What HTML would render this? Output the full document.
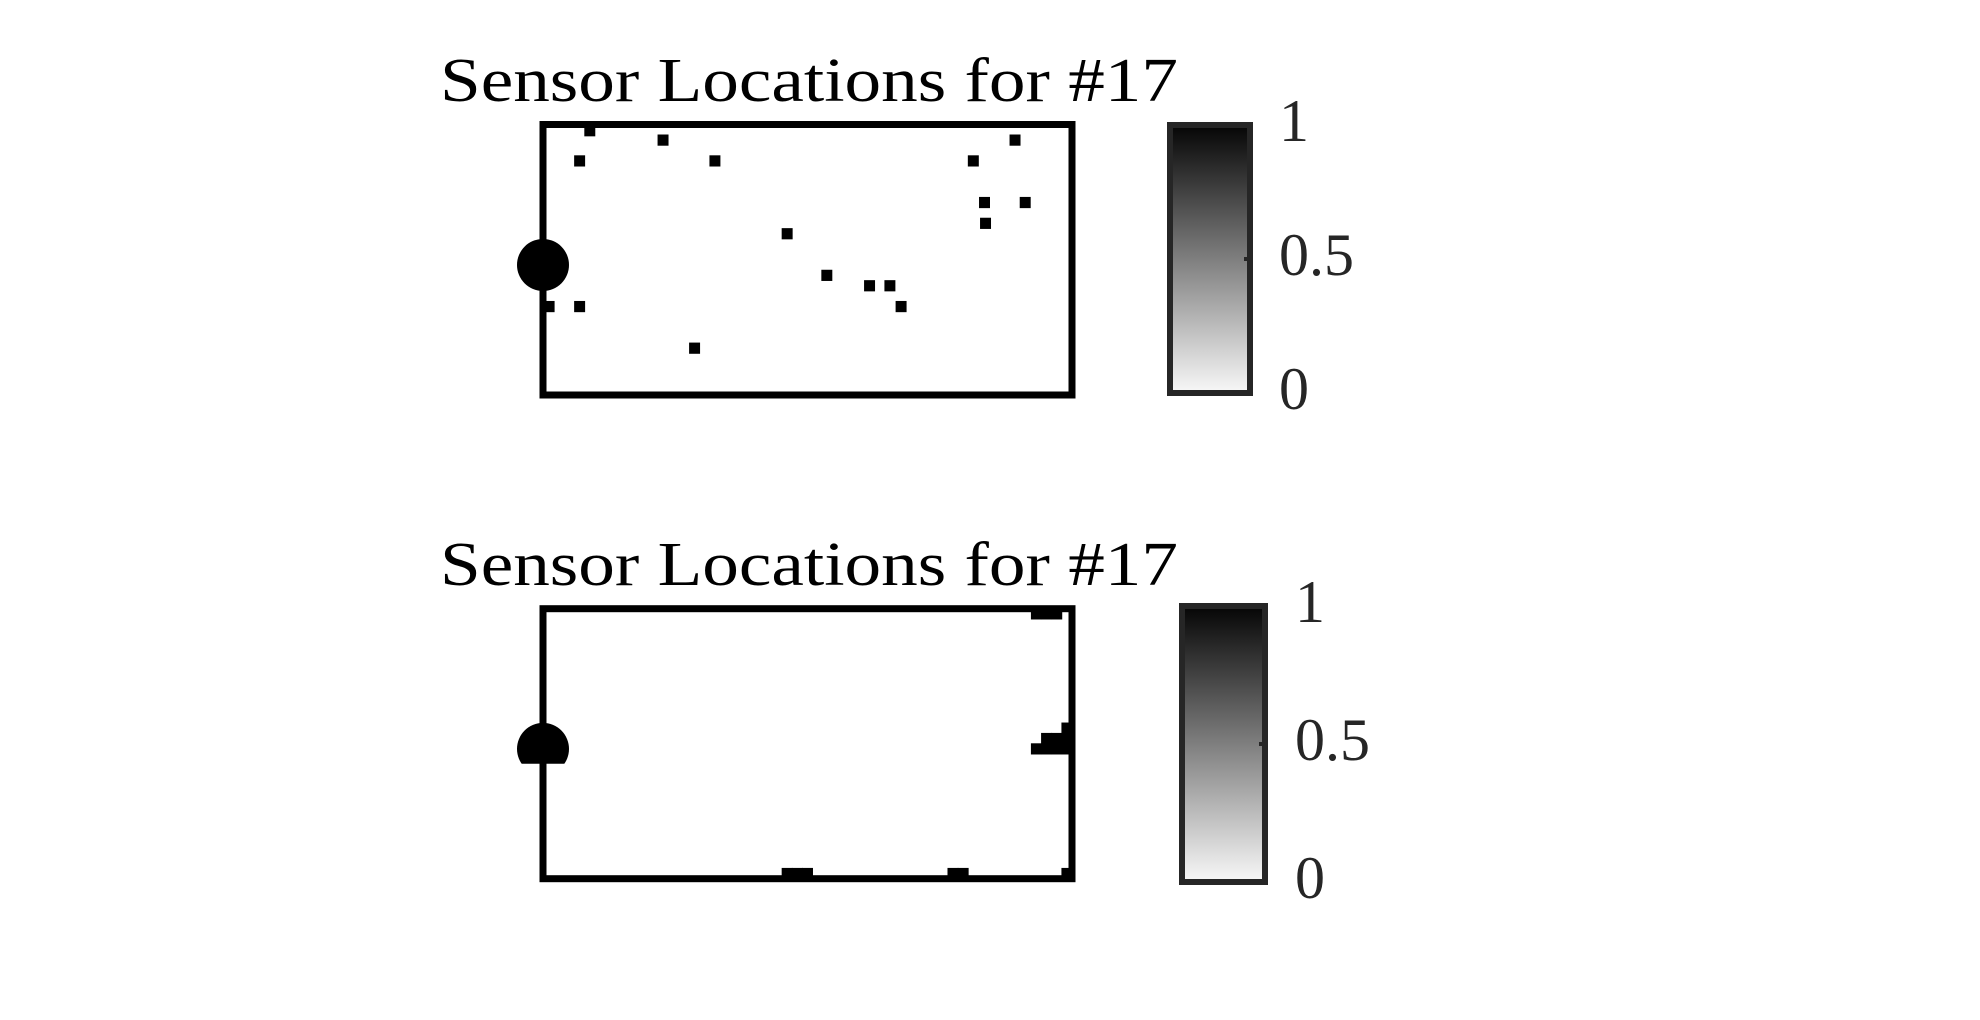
<!DOCTYPE html>
<html>
<head>
<meta charset="utf-8">
<style>
  html, body { margin: 0; padding: 0; background: #ffffff; }
  svg { display: block; }
  text { font-family: "Liberation Serif", "DejaVu Serif", serif; }
</style>
</head>
<body>
<svg id="chart" width="1980" height="1020" viewBox="0 0 1980 1020" xmlns="http://www.w3.org/2000/svg">
  <defs>
    <linearGradient id="cbgrad" x1="0" y1="0" x2="0" y2="1">
      <stop offset="0" stop-color="#050505"/>
      <stop offset="1" stop-color="#f8f8f8"/>
    </linearGradient>
    <clipPath id="halfclip"><rect x="500" y="600" width="100" height="163.7"/></clipPath>
  </defs>
  <g id="top-panel"></g>
  <g id="bottom-panel"></g>
</svg>
<script>
// ---- data ----
const gridCols = 52;
const gridRows = 26;
const topSensorX = [4.6, 11.8, 3.6, 16.9, 42.3, 46.4, 43.4, 47.4, 43.5, 24.0, 27.9, 32.1, 34.1, 35.2, 3.6, 0.6, 14.9];
const topSensorY = [0.6, 1.5, 3.5, 3.5, 3.5, 1.5, 7.5, 7.5, 9.5, 10.5, 14.5, 15.5, 15.5, 17.5, 17.5, 17.5, 21.5];
const bottomSensorX = [48.5, 49.5, 50.5, 51.5, 49.5, 50.5, 51.5, 48.5, 49.5, 50.5, 51.5, 24.0, 25.0, 26.0, 40.3, 41.3, 51.5];
const bottomSensorY = [0.5, 0.5, 0.5, 11.5, 12.5, 12.5, 12.5, 13.5, 13.5, 13.5, 13.5, 25.5, 25.5, 25.5, 25.5, 25.5, 25.5];
const sourceX = [0];
const sourceY = [13.5];
const colorbarTicks = [0, 0.5, 1];
const colorbarTickLabels = ["0", "0.5", "1"];
const titleText = "Sensor Locations for #17";

const NS = "http://www.w3.org/2000/svg";
function mk(tag, attrs, parent) {
  const e = document.createElementNS(NS, tag);
  for (const k in attrs) e.setAttribute(k, attrs[k]);
  parent.appendChild(e);
  return e;
}

function drawPanel(g, box, xs, ys, half, cb, titleBaseline, labelX, labelDy) {
  const cw = (box.x1 - box.x0) / gridCols;
  const ch = (box.y1 - box.y0) / gridRows;
  const sx = v => box.x0 + v * cw;
  const sy = v => box.y0 + v * ch;

  const t = mk("text", {x: 440, y: titleBaseline, "font-size": 62, fill: "#000", textLength: 738, lengthAdjust: "spacingAndGlyphs"}, g);
  t.textContent = titleText;
  
  

  const frame = mk("rect", {x: box.x0, y: box.y0, width: box.x1 - box.x0, height: box.y1 - box.y0, fill: "#fff", stroke: "#000", "stroke-width": 7}, g);
  
  

  for (let i = 0; i < xs.length; i++) {
    const r = mk("rect", {x: sx(xs[i]) - cw / 2 - 0.4, y: sy(ys[i]) - ch / 2 - 0.4, width: cw + 0.8, height: ch + 0.8, fill: "#000"}, g);
    
    
  }

  const src = mk("circle", {cx: sx(sourceX[0]), cy: sy(sourceY[0]), r: 26, fill: "#000"}, g);
  if (half) src.setAttribute("clip-path", "url(#halfclip)");
  
  

  const cbr = mk("rect", {x: cb.x0 + 3, y: cb.y0 + 3, width: cb.x1 - cb.x0 - 6, height: cb.y1 - cb.y0 - 6, fill: "url(#cbgrad)", stroke: "#262626", "stroke-width": 6}, g);
  
  
  const cy = v => (cb.y1 - 3) - v * ((cb.y1 - 3) - (cb.y0 + 3));
  for (let i = 0; i < colorbarTicks.length; i++) {
    const yy = cy(colorbarTicks[i]);
    if (colorbarTicks[i] > 0 && colorbarTicks[i] < 1) {
      const tk = mk("rect", {x: cb.x1 - 9, y: yy - 2, width: 3, height: 4, fill: "#262626"}, g);
      
      
    }
    const lb = mk("text", {x: labelX, y: yy + labelDy, "font-size": 60, fill: "#262626"}, g);
    lb.textContent = colorbarTickLabels[i];
    
    
  }
}

drawPanel(document.getElementById("top-panel"),
  {x0: 543, x1: 1072, y0: 124.5, y1: 395}, topSensorX, topSensorY, false,
  {x0: 1167, x1: 1253, y0: 122, y1: 396}, 101, 1279, 16);
drawPanel(document.getElementById("bottom-panel"),
  {x0: 543, x1: 1072, y0: 608.7, y1: 878.7}, bottomSensorX, bottomSensorY, true,
  {x0: 1179, x1: 1268, y0: 603, y1: 885}, 585, 1295, 16);
</script>
</body>
</html>
